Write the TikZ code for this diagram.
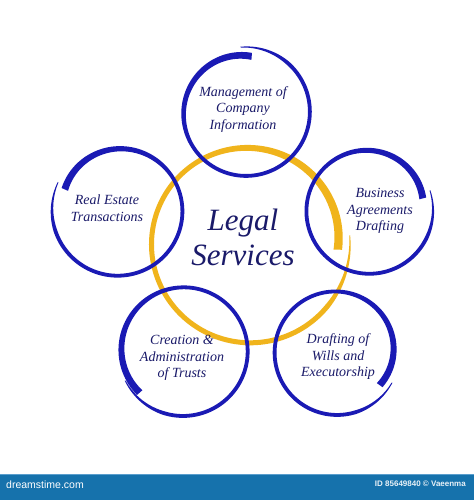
\documentclass[tikz,border=0pt]{standalone}
\usepackage{fontspec}
\setmainfont{Liberation Serif}
\newfontfamily\barfont{Liberation Sans}
\definecolor{brushblue}{RGB}{26,26,180}
\definecolor{brushgold}{RGB}{240,180,28}
\definecolor{labelnavy}{RGB}{26,26,105}
\definecolor{barblue}{RGB}{22,114,172}
\definecolor{barline}{RGB}{90,158,205}
\newcommand{\brushring}[9]{%
  \begin{scope}[declare function={Rr(\u)=#3+(#4-#3)*(\u)^3; Ww(\u)=0.8+(#7-0.8)*min((\u)/0.12,1)+(#8-#7)*max(((\u)-0.65)/0.35,0); Tt(\u)=#5+#6*(\u);}]
  \fill[#9] plot[domain=0:1,samples=240,variable=\s] ({#1+(Rr(\s)+Ww(\s)/2)*cos(Tt(\s))},{#2+(Rr(\s)+Ww(\s)/2)*sin(Tt(\s))})
    -- plot[domain=1:0,samples=240,variable=\s] ({#1+(Rr(\s)-Ww(\s)/2)*cos(Tt(\s))},{#2+(Rr(\s)-Ww(\s)/2)*sin(Tt(\s))}) -- cycle;
  \end{scope}}
\begin{document}
\begin{tikzpicture}[x=1pt,y=1pt,
  label/.style={text=labelnavy,align=center,font=\fontsize{14}{16.5}\selectfont\itshape,inner sep=0pt},
  biglabel/.style={text=labelnavy,align=center,font=\fontsize{31}{35}\selectfont\itshape,inner sep=0pt}]
\useasboundingbox (0,0) rectangle (474,500);
\fill[white] (0,0) rectangle (474,500);
% central ring
\brushring{250}{257}{100}{88}{4.5}{-369}{5}{8.5}{brushgold}
% outer rings
\brushring{245}{388}{65}{56}{94}{-371}{3.8}{7}{brushblue}
\brushring{118}{290}{66}{57}{155}{364}{3.8}{7}{brushblue}
\brushring{369}{290}{64}{55}{18}{-366}{3.8}{7}{brushblue}
\brushring{183}{149}{65}{60}{207}{377}{3.8}{7}{brushblue}
\brushring{337}{148}{63}{54}{-29}{-369}{3.8}{7}{brushblue}
% labels
\node[biglabel] (legal) at (243,262.5) {Legal\\Services};
\node[label] (mgmt) at (243,390.5) {Management of\\Company\\Information};
\node[label] (estate) at (107,292) {Real Estate\\Transactions};
\node[label] (business) at (380,289) {Business\\Agreements\\Drafting};
\node[label] (trusts) at (182,142) {Creation \&\\Administration\\of Trusts};
\node[label] (wills) at (338,143) {Drafting of\\Wills and\\Executorship};
% bottom bar
\fill[barblue] (0,0) rectangle (474,26);
\draw[barline,line width=0.8pt] (0,26) -- (474,26);
\node[anchor=base west,text=white,font=\barfont\fontsize{10.5}{12}\selectfont,inner sep=0pt] (brand) at (6,11) {dreamstime.com};
\node[anchor=base east,text=white!90!barblue,font=\barfont\bfseries\fontsize{8}{10}\selectfont,inner sep=0pt] (credit) at (466,13) {ID 85649840 \textcopyright{} Vaeenma};
\end{tikzpicture}
\end{document}
